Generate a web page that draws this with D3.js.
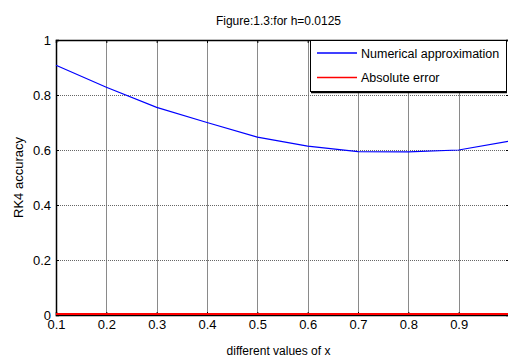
<!DOCTYPE html>
<html>
<head>
<meta charset="utf-8">
<script src="https://cdn.jsdelivr.net/npm/d3@7"></script>
<style>
  body { margin: 0; background: #fff; }
  text { font-family: "Liberation Sans", Arial, sans-serif; }
</style>
</head>
<body>
<div id="chart"></div>
<script>
// x steps and the two series
const xValues = [0.1, 0.2, 0.3, 0.4, 0.5, 0.6, 0.7, 0.8, 0.9, 1.0];
const approx = [0.908, 0.828, 0.755, 0.700, 0.647, 0.614, 0.594, 0.593, 0.600, 0.632];
const absError = [0, 0, 0, 0, 0, 0, 0, 0, 0, 0];

const xTicks = [0.1, 0.2, 0.3, 0.4, 0.5, 0.6, 0.7, 0.8, 0.9];
const yTicks = [0, 0.2, 0.4, 0.6, 0.8, 1];
const legendLabels = ["Numerical approximation", "Absolute error"];
const seriesColors = ["#0000ff", "#ff0000"];

const width = 508, height = 359;
const m = {left: 56, top: 40, right: 509, bottom: 315};

const svg = d3.select('#chart').append('svg')
    .attr('width', width)
    .attr('height', height);

const x = d3.scaleLinear().domain([0.1, 1.0]).range([m.left, m.right]);
const y = d3.scaleLinear().domain([0, 1]).range([m.bottom, m.top]);

// grid (dotted, matlab style)
const grid = svg.append('g').attr('stroke-width', 1);
grid.selectAll('.vg').data(xTicks.slice(1)).join('line')
    .attr('stroke', '#8a8a8a')
    .attr('x1', d => Math.round(x(d)) + 0.5).attr('x2', d => Math.round(x(d)) + 0.5)
    .attr('y1', m.top).attr('y2', m.bottom);
grid.selectAll('.hg').data(yTicks.slice(1, -1)).join('line')
    .attr('stroke', '#666')
    .attr('stroke-dasharray', '1,1')
    .attr('y1', d => Math.round(y(d)) + 0.5).attr('y2', d => Math.round(y(d)) + 0.5)
    .attr('x1', m.left).attr('x2', m.right);

// axes
const xAxis = svg.append('g')
    .attr('transform', `translate(0,${m.bottom})`)
    .call(d3.axisBottom(x).tickValues(xTicks).tickSize(-3).tickPadding(6)
      .tickFormat(d3.format('.1f')));
const xTop = svg.append('g')
    .attr('transform', `translate(0,${m.top})`)
    .call(d3.axisTop(x).tickValues(xTicks).tickSize(-3).tickFormat(''));
const yAxis = svg.append('g')
    .attr('transform', `translate(${m.left},0)`)
    .call(d3.axisLeft(y).tickValues(yTicks).tickSize(-3).tickPadding(5)
      .tickFormat(d => d === 0 || d === 1 ? d3.format('d')(d) : d3.format('.1f')(d)));
const yRight = svg.append('g')
    .attr('transform', `translate(${m.right},0)`)
    .call(d3.axisRight(y).tickValues(yTicks).tickSize(-3).tickFormat(''));

[xAxis, xTop, yAxis, yRight].forEach(g => {
  g.select('.domain').attr('stroke', '#000').attr('stroke-width', 1.5);
  g.selectAll('.tick line').attr('stroke', '#000');
  g.selectAll('text').attr('font-size', 13).attr('fill', '#000')
    .attr('font-family', '"Liberation Sans", Arial, sans-serif');
});
xAxis.selectAll('text').attr('dy', '0.6em');

// lines
const line = d3.line().x((d, i) => x(xValues[i])).y(d => y(d));
svg.append('path').datum(approx)
    .attr('d', line)
    .attr('fill', 'none')
    .attr('stroke', seriesColors[0])
    .attr('stroke-width', 1.2);
svg.append('path').datum(absError)
    .attr('d', line)
    .attr('fill', 'none')
    .attr('stroke', seriesColors[1])
    .attr('stroke-width', 2.2)
    .attr('transform', 'translate(0,-1)');

// title and labels
svg.append('text')
    .attr('x', (m.left + m.right) / 2 - 4).attr('y', 25)
    .attr('text-anchor', 'middle').attr('font-size', 12)
    .text('Figure:1.3:for h=0.0125');
svg.append('text')
    .attr('x', (m.left + m.right) / 2 - 4).attr('y', 355)
    .attr('text-anchor', 'middle').attr('font-size', 12)
    .text('different values of x');
svg.append('text')
    .attr('transform', `translate(23,${(m.top + m.bottom) / 2}) rotate(-90)`)
    .attr('text-anchor', 'middle').attr('font-size', 13)
    .text('RK4 accuracy');

// legend
const lg = svg.append('g').attr('transform', 'translate(310,40)');
lg.append('rect')
    .attr('x', 0.5).attr('y', 0.5).attr('width', 196).attr('height', 51)
    .attr('fill', '#fff').attr('stroke', '#000').attr('stroke-width', 1);
lg.append('line').attr('x1', 1).attr('x2', 197).attr('y1', 52.5).attr('y2', 52.5)
    .attr('stroke', '#000').attr('stroke-width', 1.5);
legendLabels.forEach((label, i) => {
  const ly = 13 + i * 24.5;
  lg.append('line')
      .attr('x1', 7).attr('x2', 47).attr('y1', ly).attr('y2', ly)
      .attr('stroke', seriesColors[i]).attr('stroke-width', 1.3);
  lg.append('text')
      .attr('x', 51).attr('y', ly + 4.5)
      .attr('font-size', 12.5)
      .text(label);
});
</script>
</body>
</html>
